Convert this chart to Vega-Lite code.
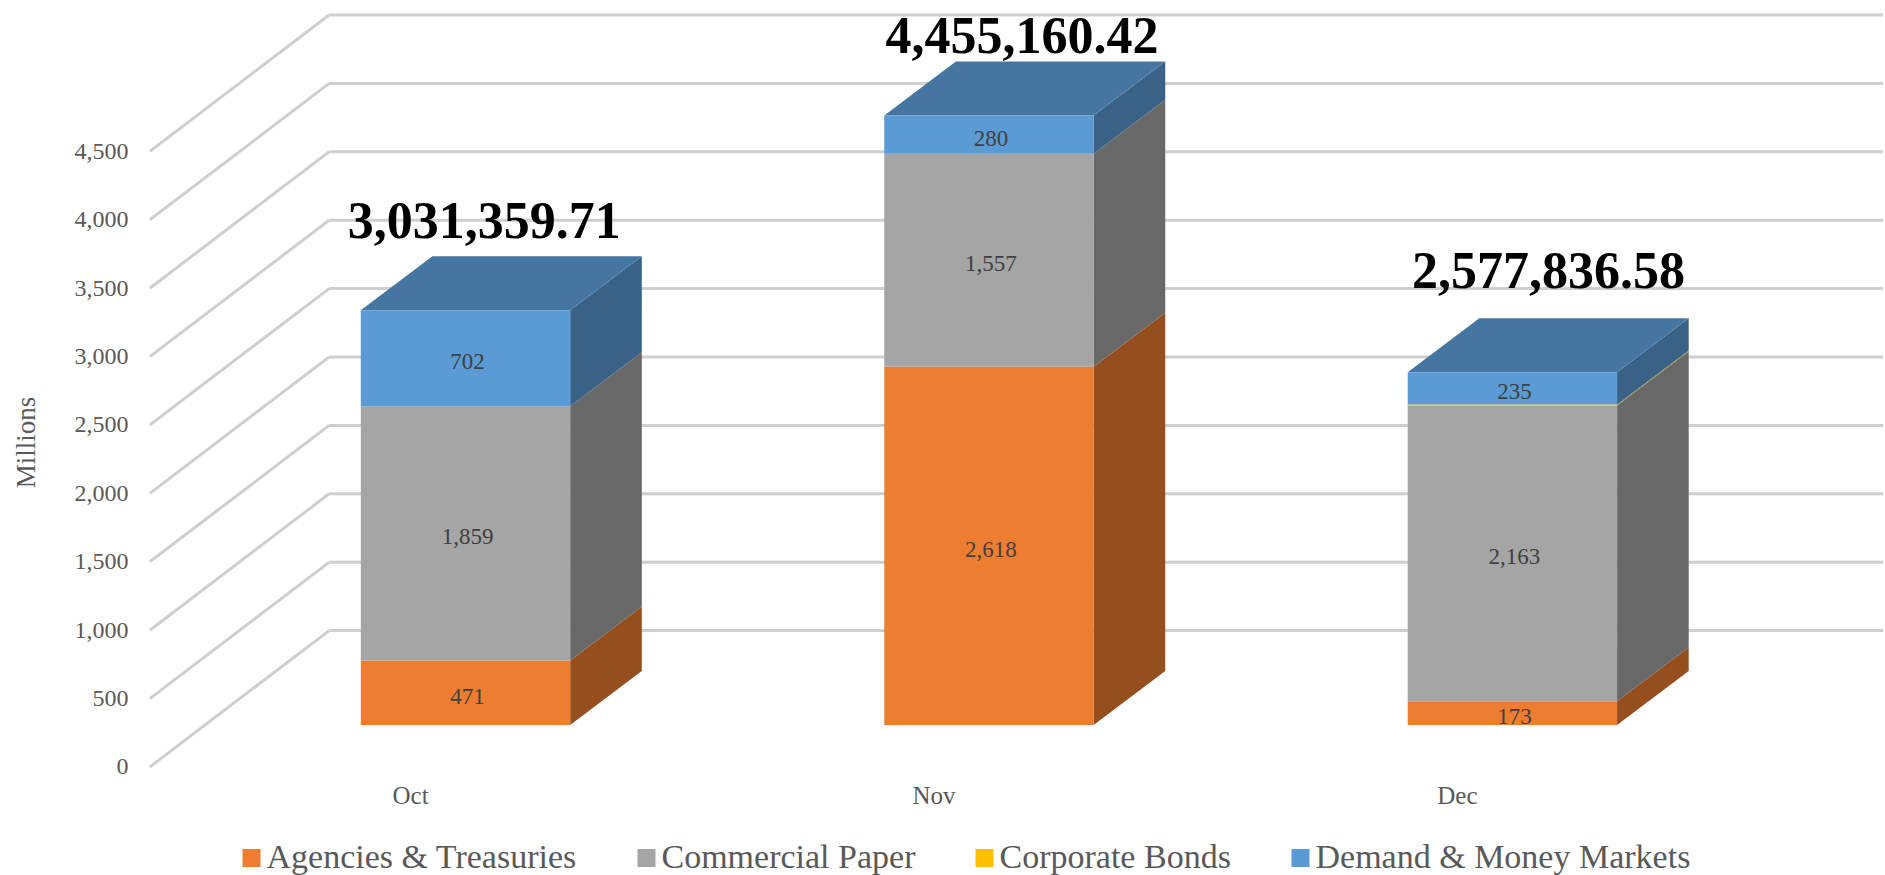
{
"$schema":"https://vega.github.io/schema/vega-lite/v6.json",
"width":1885,"height":875,
"autosize":{"type":"fit","contains":"padding"},
"padding":0,
"background":"white",
"config":{"view":{"stroke":null},"font":"Liberation Serif"},
"datasets":{
"bars":[
{"month":"Oct","series":"Agencies & Treasuries","order":1,"value":471},
{"month":"Oct","series":"Commercial Paper","order":2,"value":1859},
{"month":"Oct","series":"Corporate Bonds","order":3,"value":0},
{"month":"Oct","series":"Demand & Money Markets","order":4,"value":702},
{"month":"Nov","series":"Agencies & Treasuries","order":1,"value":2618},
{"month":"Nov","series":"Commercial Paper","order":2,"value":1557},
{"month":"Nov","series":"Corporate Bonds","order":3,"value":0},
{"month":"Nov","series":"Demand & Money Markets","order":4,"value":280},
{"month":"Dec","series":"Agencies & Treasuries","order":1,"value":173},
{"month":"Dec","series":"Commercial Paper","order":2,"value":2163},
{"month":"Dec","series":"Corporate Bonds","order":3,"value":7},
{"month":"Dec","series":"Demand & Money Markets","order":4,"value":235}
],
"totals":[
{"month":"Oct","total":3031359.71},
{"month":"Nov","total":4455160.42},
{"month":"Dec","total":2577836.58}
],
"ticks":[{"tick":0},{"tick":500},{"tick":1000},{"tick":1500},{"tick":2000},{"tick":2500},{"tick":3000},{"tick":3500},{"tick":4000},{"tick":4500}]
},
"resolve":{"scale":{"y":"independent","color":"independent"}},
"layer":[
{
"data":{"name":"ticks"},
"transform":[
{"calculate":"datum.tick+997","as":"backTick"},
{"calculate":"0.3969","as":"xf"},
{"calculate":"0.7395","as":"xb"},
{"calculate":"3.708","as":"xe"}
],
"layer":[
{"mark":{"type":"rule","stroke":"#CFCFCF","strokeWidth":3},
"encoding":{
"x":{"field":"xf","type":"quantitative","scale":{"domain":[0.1107,3.708],"nice":false,"zero":false},"axis":null},
"x2":{"field":"xb"},
"y":{"field":"tick","type":"quantitative","scale":{"domain":[-789.5,5606.7],"nice":false,"zero":false},
"axis":{"orient":"left","offset":-128,"values":[0,500,1000,1500,2000,2500,3000,3500,4000,4500],"format":",.0f","domain":false,"ticks":false,"grid":false,"labelPadding":0,"labelFont":"Liberation Serif","labelFontSize":24,"labelColor":"#595959","labelBaseline":"middle","labelOverlap":false,"title":"Millions","titleFont":"Liberation Serif","titleFontSize":27,"titleFontWeight":"normal","titleColor":"#595959","titleX":-102,"titleY":442,"titleAngle":-90,"titleAlign":"center","titleBaseline":"middle"}},
"y2":{"field":"backTick"}
}},
{"mark":{"type":"rule","stroke":"#CFCFCF","strokeWidth":3},
"encoding":{
"x":{"field":"xb","type":"quantitative","scale":{"domain":[0.1107,3.708],"nice":false,"zero":false},"axis":null},
"x2":{"field":"xe"},
"y":{"field":"backTick","type":"quantitative","scale":{"domain":[-789.5,5606.7],"nice":false,"zero":false}}
}}
]
},
{
"data":{"name":"bars"},
"transform":[
{"stack":"value","groupby":["month"],"sort":[{"field":"order","order":"ascending"}],"as":["v0","v1"]},
{"calculate":"indexof(['Oct','Nov','Dec'],datum.month)+1","as":"slot"},
{"calculate":"datum.slot-0.2","as":"xl"},
{"calculate":"datum.slot+0.2","as":"xr"},
{"calculate":"(datum.v0+datum.v1)/2","as":"vm"}
],
"resolve":{"scale":{"color":"independent"}},
"layer":[
{
"transform":[
{"filter":"datum.value>0"},
{"calculate":"[0,1]","as":"corner"},
{"flatten":["corner"]},
{"calculate":"datum.xr+datum.corner*0.1368","as":"xs"},
{"calculate":"datum.v0+datum.corner*394.7","as":"s0"},
{"calculate":"datum.v1+datum.corner*394.7","as":"s1"}
],
"mark":{"type":"area","orient":"vertical","line":false},
"encoding":{
"x":{"field":"xs","type":"quantitative","scale":{"domain":[0.1107,3.708],"nice":false,"zero":false},"axis":null},
"y":{"field":"s1","type":"quantitative","stack":null,"scale":{"domain":[-1096.5,5299.7],"nice":false,"zero":false},"axis":null},
"y2":{"field":"s0"},
"detail":{"field":"month"},
"color":{"field":"series","type":"nominal","legend":null,"scale":{"domain":["Agencies & Treasuries","Commercial Paper","Corporate Bonds","Demand & Money Markets"],"range":["#954F1F","#686868","#8F8A3A","#396286"]}}
}
},
{
"transform":[
{"filter":"datum.series==='Demand & Money Markets'"},
{"calculate":"[0,1]","as":"corner"},
{"flatten":["corner"]},
{"calculate":"datum.xl+datum.corner*0.1368","as":"tl"},
{"calculate":"datum.xr+datum.corner*0.1368","as":"tr"},
{"calculate":"datum.v1+datum.corner*394.7","as":"tv"}
],
"mark":{"type":"area","orient":"horizontal","line":false},
"encoding":{
"y":{"field":"tv","type":"quantitative","stack":null,"scale":{"domain":[-1096.5,5299.7],"nice":false,"zero":false},"axis":null},
"x":{"field":"tl","type":"quantitative","stack":null,"scale":{"domain":[0.1107,3.708],"nice":false,"zero":false},"axis":null},
"x2":{"field":"tr"},
"detail":{"field":"month"},
"color":{"field":"series","type":"nominal","legend":null,"scale":{"domain":["Demand & Money Markets"],"range":["#4576A2"]}}
}
},
{
"mark":{"type":"rect"},
"encoding":{
"x":{"field":"xl","type":"quantitative","scale":{"domain":[0.1107,3.708],"nice":false,"zero":false},"axis":null},
"x2":{"field":"xr"},
"y":{"field":"v1","type":"quantitative","stack":null,"scale":{"domain":[-1096.5,5299.7],"nice":false,"zero":false},"axis":null},
"y2":{"field":"v0"},
"color":{"field":"series","type":"nominal","scale":{"domain":["Agencies & Treasuries","Commercial Paper","Corporate Bonds","Demand & Money Markets"],"range":["#ED7D31","#A5A5A5","#FFC000","#5B9BD5"]},
"legend":{"orient":"none","direction":"horizontal","columns":4,"legendX":234.5,"legendY":841,"title":null,"symbolType":"square","symbolSize":324,"symbolStrokeWidth":0,"labelFont":"Liberation Serif","labelFontSize":34,"labelColor":"#595959","labelOffset":-2,"columnPadding":52,"labelLimit":500,"symbolOpacity":1}}
}
},
{
"transform":[{"filter":"datum.value>=100"}],
"mark":{"type":"text","font":"Liberation Serif","fontSize":23,"color":"#404040","align":"center","baseline":"middle","dy":4,"dx":2},
"encoding":{
"x":{"field":"slot","type":"quantitative","scale":{"domain":[0.1107,3.708],"nice":false,"zero":false},"axis":null},
"y":{"field":"vm","type":"quantitative","scale":{"domain":[-1096.5,5299.7],"nice":false,"zero":false},"axis":null},
"text":{"field":"value","type":"quantitative","format":",.0f"}
}
},
{
"data":{"name":"totals"},
"transform":[
{"calculate":"indexof(['Oct','Nov','Dec'],datum.month)","as":"i"},
{"calculate":"datum.i+1+[0.036,0.063,0.069][datum.i]","as":"tx"},
{"calculate":"datum.total/1000+394.7+[250,183,336][datum.i]","as":"ty"}
],
"mark":{"type":"text","font":"Liberation Serif","fontSize":52,"fontWeight":"bold","color":"#000000","align":"center","baseline":"middle"},
"encoding":{
"x":{"field":"tx","type":"quantitative","scale":{"domain":[0.1107,3.708],"nice":false,"zero":false},"axis":null},
"y":{"field":"ty","type":"quantitative","scale":{"domain":[-1096.5,5299.7],"nice":false,"zero":false},"axis":null},
"text":{"field":"total","type":"quantitative","format":",.2f"}
}
},
{
"data":{"name":"totals"},
"transform":[
{"calculate":"indexof(['Oct','Nov','Dec'],datum.month)+1-0.105","as":"lx"},
{"calculate":"-519","as":"ly"}
],
"mark":{"type":"text","font":"Liberation Serif","fontSize":25,"color":"#595959","align":"center","baseline":"middle"},
"encoding":{
"x":{"field":"lx","type":"quantitative","scale":{"domain":[0.1107,3.708],"nice":false,"zero":false},"axis":null},
"y":{"field":"ly","type":"quantitative","scale":{"domain":[-1096.5,5299.7],"nice":false,"zero":false},"axis":null},
"text":{"field":"month","type":"nominal"}
}
}
]
}
]
}
